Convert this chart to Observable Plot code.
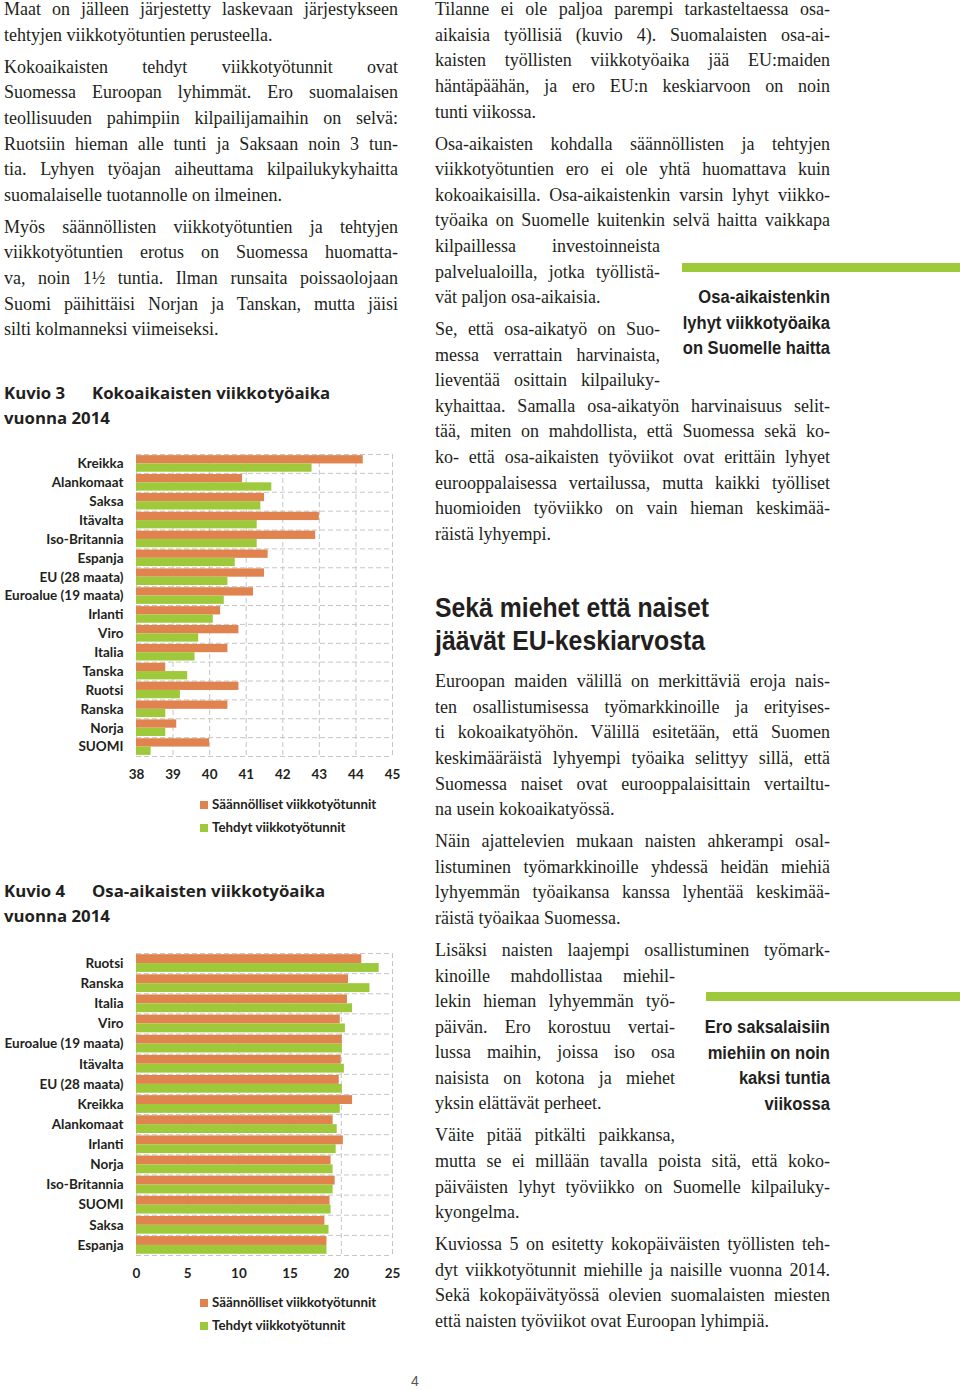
<!DOCTYPE html>
<html lang="fi"><head><meta charset="utf-8">
<script src="https://cdn.jsdelivr.net/npm/d3@7"></script>
<script src="https://cdn.jsdelivr.net/npm/@observablehq/plot@0.6"></script>
<style>
html,body{margin:0;padding:0;background:#fff;}
#page{position:relative;width:960px;height:1390px;overflow:hidden;color:#231f20;}
.col{position:absolute;font-family:"Liberation Serif","Times New Roman",serif;font-size:18px;line-height:25.6px;}
.col .para{margin:0 0 6.4px 0;}
.ln{display:block;white-space:nowrap;height:25.6px;}
.j{text-align:justify;text-align-last:justify;}
.cond{font-family:"Liberation Sans",Arial,sans-serif;font-weight:700;color:#231f20;position:absolute;white-space:nowrap;}
.head{font-size:28px;line-height:33px;transform:scaleX(0.885);transform-origin:left top;}
.pq{text-align:right;font-size:18px;line-height:25.5px;transform:scaleX(0.92);transform-origin:right top;}
.bar{position:absolute;background:#9dc93b;}
.ct{position:absolute;font-family:"Open Sans",Lato,sans-serif;font-weight:700;font-size:16.8px;line-height:25px;white-space:nowrap;}
.chart{position:absolute;left:0;}
.leg{position:absolute;left:200px;font-family:Lato,"Open Sans",sans-serif;font-weight:700;font-size:13.3px;line-height:23px;}
.leg div{white-space:nowrap;}
.sw{display:inline-block;width:8px;height:8px;margin-right:4px;vertical-align:0px;}
#pnum{position:absolute;left:411px;top:1373px;font-family:"Liberation Sans",sans-serif;font-size:14px;color:#555;}
</style></head>
<body><div id="page">
<div class="col" id="left" style="left:4px;top:-2.8px;width:394px"></div>
<div class="col" id="rightA" style="left:435px;top:-2.8px;width:395px"></div>
<div class="cond head" style="left:435px;top:590.5px">Sekä miehet että naiset<br>jäävät EU-keskiarvosta</div>
<div class="col" id="rightB" style="left:435px;top:669.2px;width:395px"></div>

<div class="bar" style="left:682px;top:263px;width:278px;height:9px"></div>
<div class="cond pq" style="left:600px;top:285.3px;width:230px">Osa-aikaistenkin<br>lyhyt viikkotyöaika<br>on Suomelle haitta</div>
<div class="bar" style="left:706px;top:992px;width:254px;height:9px"></div>
<div class="cond pq" style="left:600px;top:1015.3px;width:230px;line-height:25.4px">Ero saksalaisiin<br>miehiin on noin<br>kaksi tuntia<br>viikossa</div>

<div class="ct" style="left:4px;top:379.5px">Kuvio 3</div>
<div class="ct" style="left:92px;top:379.5px">Kokoaikaisten viikkotyöaika</div>
<div class="ct" style="left:4px;top:404.5px">vuonna 2014</div>
<div class="chart" id="chart1" style="top:440px"></div>
<div class="leg" style="top:792.5px">
  <div><span class="sw" style="background:#e1834e"></span>Säännölliset viikkotyötunnit</div>
  <div><span class="sw" style="background:#9dc93b"></span>Tehdyt viikkotyötunnit</div>
</div>

<div class="ct" style="left:4px;top:877.5px">Kuvio 4</div>
<div class="ct" style="left:92px;top:877.5px">Osa-aikaisten viikkotyöaika</div>
<div class="ct" style="left:4px;top:902.5px">vuonna 2014</div>
<div class="chart" id="chart2" style="top:940px"></div>
<div class="leg" style="top:1290.5px">
  <div><span class="sw" style="background:#e1834e"></span>Säännölliset viikkotyötunnit</div>
  <div><span class="sw" style="background:#9dc93b"></span>Tehdyt viikkotyötunnit</div>
</div>
<div id="pnum">4</div>
</div>
<script>
// ---- Chart data (Kuvio 3: full-time weekly hours, 2014) ----
const countries1 = ["Kreikka","Alankomaat","Saksa","Itävalta","Iso-Britannia","Espanja","EU (28 maata)","Euroalue (19 maata)","Irlanti","Viro","Italia","Tanska","Ruotsi","Ranska","Norja","SUOMI"];
const regular1 = [44.2,40.9,41.5,43.0,42.9,41.6,41.5,41.2,40.3,40.8,40.5,38.8,40.8,40.5,39.1,40.0];
const worked1  = [42.8,41.7,41.4,41.3,41.3,40.7,40.5,40.4,40.1,39.7,39.6,39.4,39.2,38.8,38.8,38.4];
const xTicks1  = [38,39,40,41,42,43,44,45];

// ---- Chart data (Kuvio 4: part-time weekly hours, 2014) ----
const countries2 = ["Ruotsi","Ranska","Italia","Viro","Euroalue (19 maata)","Itävalta","EU (28 maata)","Kreikka","Alankomaat","Irlanti","Norja","Iso-Britannia","SUOMI","Saksa","Espanja"];
const regular2 = [22.0,20.7,20.6,19.9,20.1,20.0,19.8,21.1,19.2,20.2,19.0,19.4,18.9,18.4,18.6];
const worked2  = [23.7,22.8,21.1,20.4,20.1,20.3,20.1,19.9,19.6,19.5,19.2,19.2,19.0,18.8,18.6];
const xTicks2  = [0,5,10,15,20,25];

const seriesNames = ["Säännölliset viikkotyötunnit","Tehdyt viikkotyötunnit"];
const ORANGE = "#e1834e", GREEN = "#9dc93b";

function groupedChart(countries, regular, worked, ticks, marginTop) {
  const n = countries.length;
  const rows = countries.map((c, i) => ({country: c, i, regular: regular[i], worked: worked[i]}));
  const pad = 0.06;
  const x0 = ticks[0];
  const grid = {stroke: "#c6c6c6", strokeWidth: 1, strokeDasharray: "5,3"};
  return Plot.plot({
    width: 400, height: marginTop + 302 + 30,
    marginTop, marginBottom: 30, marginLeft: 136, marginRight: 8,
    style: {fontFamily: "Lato, 'Open Sans', sans-serif", fontSize: "13.5px", fontWeight: "700", color: "#231f20", background: "transparent", overflow: "visible"},
    x: {domain: [ticks[0], ticks[ticks.length - 1]], ticks, tickSize: 0, tickPadding: 13, label: null, tickFormat: d => String(d)},
    y: {domain: [n, 0], axis: null},
    marks: [
      Plot.ruleY(d3.range(n + 1), grid),
      Plot.ruleX(ticks, grid),
      Plot.rect(rows, {x1: x0, x2: "regular", y1: d => d.i + pad, y2: d => d.i + 0.5, fill: ORANGE}),
      Plot.rect(rows, {x1: x0, x2: "worked", y1: d => d.i + 0.5, y2: d => d.i + 1 - pad, fill: GREEN}),
      Plot.text(rows, {x: x0, y: d => d.i + 0.5, text: "country", textAnchor: "end", dx: -13, fontWeight: 700, fontSize: 13.5, fill: "#231f20"})
    ]
  });
}
document.getElementById("chart1").append(groupedChart(countries1, regular1, worked1, xTicks1, 14));
document.getElementById("chart2").append(groupedChart(countries2, regular2, worked2, xTicks2, 13));

// ---- Body text (each printed line kept as in the original) ----
const leftText = [
  ["Maat on jälleen järjestetty laskevaan järjestykseen","tehtyjen viikkotyötuntien perusteella."],
  ["Kokoaikaisten tehdyt viikkotyötunnit ovat","Suomessa Euroopan lyhimmät. Ero suomalaisen","teollisuuden pahimpiin kilpailijamaihin on selvä:","Ruotsiin hieman alle tunti ja Saksaan noin 3 tun-","tia. Lyhyen työajan aiheuttama kilpailukykyhaitta","suomalaiselle tuotannolle on ilmeinen."],
  ["Myös säännöllisten viikkotyötuntien ja tehtyjen","viikkotyötuntien erotus on Suomessa huomatta-","va, noin 1½ tuntia. Ilman runsaita poissaolojaan","Suomi päihittäisi Norjan ja Tanskan, mutta jäisi","silti kolmanneksi viimeiseksi."]
];
const rightAText = [
  ["Tilanne ei ole paljoa parempi tarkasteltaessa osa-","aikaisia työllisiä (kuvio 4). Suomalaisten osa-ai-","kaisten työllisten viikkotyöaika jää EU:maiden","häntäpäähän, ja ero EU:n keskiarvoon on noin","tunti viikossa."],
  ["Osa-aikaisten kohdalla säännöllisten ja tehtyjen","viikkotyötuntien ero ei ole yhtä huomattava kuin","kokoaikaisilla. Osa-aikaistenkin varsin lyhyt viikko-","työaika on Suomelle kuitenkin selvä haitta vaikkapa",["kilpaillessa investoinneista",225],["palvelualoilla, jotka työllistä-",225],["vät paljon osa-aikaisia.",225]],
  [["Se, että osa-aikatyö on Suo-",225],["messa verrattain harvinaista,",225],["lieventää osittain kilpailuky-",225],"kyhaittaa. Samalla osa-aikatyön harvinaisuus selit-","tää, miten on mahdollista, että Suomessa sekä ko-","ko- että osa-aikaisten työviikot ovat erittäin lyhyet","eurooppalaisessa vertailussa, mutta kaikki työlliset","huomioiden työviikko on vain hieman keskimää-","räistä lyhyempi."]
];
const rightBText = [
  ["Euroopan maiden välillä on merkittäviä eroja nais-","ten osallistumisessa työmarkkinoille ja erityises-","ti kokoaikatyöhön. Välillä esitetään, että Suomen","keskimääräistä lyhyempi työaika selittyy sillä, että","Suomessa naiset ovat eurooppalaisittain vertailtu-","na usein kokoaikatyössä."],
  ["Näin ajattelevien mukaan naisten ahkerampi osal-","listuminen työmarkkinoille yhdessä heidän miehiä","lyhyemmän työaikansa kanssa lyhentää keskimää-","räistä työaikaa Suomessa."],
  ["Lisäksi naisten laajempi osallistuminen työmark-",["kinoille mahdollistaa miehil-",240],["lekin hieman lyhyemmän työ-",240],["päivän. Ero korostuu vertai-",240],["lussa maihin, joissa iso osa",240],["naisista on kotona ja miehet",240],["yksin elättävät perheet.",240]],
  [["Väite pitää pitkälti paikkansa,",240],"mutta se ei millään tavalla poista sitä, että koko-","päiväisten lyhyt työviikko on Suomelle kilpailuky-","kyongelma."],
  ["Kuviossa 5 on esitetty kokopäiväisten työllisten teh-","dyt viikkotyötunnit miehille ja naisille vuonna 2014.","Sekä kokopäivätyössä olevien suomalaisten miesten","että naisten työviikot ovat Euroopan lyhimpiä."]
];
function fillCol(id, paras) {
  const col = document.getElementById(id);
  paras.forEach(p => {
    const pd = document.createElement("div"); pd.className = "para";
    p.forEach((l, k) => {
      const txt = Array.isArray(l) ? l[0] : l;
      const w = Array.isArray(l) ? l[1] : null;
      const d = document.createElement("div");
      d.className = "ln";
      d.dataset.just = k < p.length - 1 ? "1" : "0";
      if (w) d.style.width = w + "px";
      const s = document.createElement("span"); s.textContent = txt;
      d.appendChild(s); pd.appendChild(d);
    });
    col.appendChild(pd);
  });
}
fillCol("left", leftText); fillCol("rightA", rightAText); fillCol("rightB", rightBText);
function fit() {
  document.querySelectorAll(".ln").forEach(d => {
    d.classList.remove("j"); d.style.letterSpacing = "0px";
    const s = d.firstChild;
    const target = d.clientWidth;
    const w = s.getBoundingClientRect().width;
    if (w > target - 1) {
      d.style.letterSpacing = ((target - 1 - w) / s.textContent.length) + "px";
    }
    if (d.dataset.just === "1") d.classList.add("j");
  });
}
fit();
if (document.fonts && document.fonts.ready) document.fonts.ready.then(fit);
</script>
</body></html>
